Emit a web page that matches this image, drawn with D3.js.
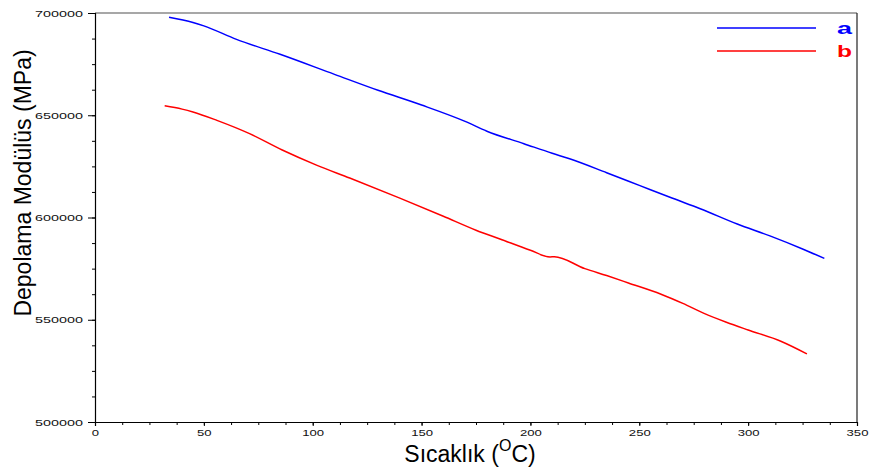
<!DOCTYPE html>
<html>
<head>
<meta charset="utf-8">
<script src="https://cdn.jsdelivr.net/npm/d3@7"></script>
<style>
  body { margin: 0; background: #fff; }
  text { font-family: "Liberation Sans", Arial, sans-serif; }
</style>
</head>
<body>
<div class="chart"></div>
<script>
// DATA ------------------------------------
const seriesNames = ['a', 'b'];
const seriesColors = ['#0000ff', '#ff0000'];

const tempA = [34, 45, 50, 65, 85, 110, 130, 150, 170, 180, 197, 210, 218, 235, 250, 265, 278, 295, 310, 325, 335];
const modA = [697900, 695400, 693700, 687100, 679800, 670000, 662200, 655000, 647000, 642200, 636100, 631400, 628700, 621900, 615700, 609500, 604300, 596800, 591000, 584600, 580000];

const tempB = [32, 40, 45, 56, 71, 86, 102, 117, 140, 160, 175, 186, 200, 209, 211, 225, 235, 245, 260, 270, 280, 290, 300, 315, 327];
const modB = [654600, 653000, 651600, 647500, 641000, 633000, 625500, 619300, 609500, 600600, 593800, 589500, 584000, 580700, 580800, 575000, 571600, 568000, 562500, 558000, 553000, 548800, 545000, 539500, 533300];

const xTicks = [0, 50, 100, 150, 200, 250, 300, 350];
const yTicks = [500000, 550000, 600000, 650000, 700000];

// CHART INIT ------------------------------
const margin = { top: 13, right: 14, bottom: 49, left: 95 },
    width = 871 - margin.left - margin.right,
    height = 471 - margin.top - margin.bottom;

const svg = d3.select('.chart')
    .append('svg')
    .attr('width', width + margin.left + margin.right)
    .attr('height', height + margin.top + margin.bottom);

const group = svg.append('g')
    .attr('transform', 'translate(' + margin.left + ',' + margin.top + ')');

const xScale = d3.scaleLinear().domain([0, 350]).range([0, width]);
const yScale = d3.scaleLinear().domain([500000, 700000]).range([height, 0]);

// frame (top / right)
group.append('line')
    .attr('x1', 0).attr('x2', width).attr('y1', 0).attr('y2', 0)
    .attr('stroke', '#8a8a8a').attr('stroke-width', 1.5);
group.append('line')
    .attr('x1', width).attr('x2', width).attr('y1', 0).attr('y2', height)
    .attr('stroke', '#222').attr('stroke-width', 1.2);

// minor ticks
const xMinor = d3.axisBottom(xScale).tickValues(d3.range(0, 351, 12.5)).tickSize(3).tickFormat('');
const yMinor = d3.axisLeft(yScale).tickValues(d3.range(500000, 700001, 12500)).tickSize(3).tickFormat('');

group.append('g').attr('class', 'minor').attr('transform', `translate(0, ${height})`).call(xMinor);
group.append('g').attr('class', 'minor').call(yMinor);

// major axes
const xAxis = d3.axisBottom(xScale).tickValues(xTicks).tickSize(4).tickPadding(3).tickFormat(d3.format('d'));
const yAxis = d3.axisLeft(yScale).tickValues(yTicks).tickSize(7).tickPadding(5).tickFormat(d3.format('d'));

const xDisplay = group.append('g')
    .attr('class', 'axis x-axis')
    .attr('transform', `translate(0, ${height})`)
    .call(xAxis);

const yDisplay = group.append('g')
    .attr('class', 'axis y-axis')
    .call(yAxis);

group.selectAll('.domain').attr('stroke', '#000').attr('stroke-width', 1.2);
group.selectAll('.minor .domain').remove();
group.selectAll('.tick line').attr('stroke', '#000');

xDisplay.selectAll('text')
    .attr('font-size', 9.5)
    .attr('fill', '#111')
    .attr('textLength', d => String(d).length * 7.3)
    .attr('lengthAdjust', 'spacingAndGlyphs');

yDisplay.selectAll('text')
    .attr('font-size', 9.5)
    .attr('fill', '#111')
    .attr('textLength', 48)
    .attr('lengthAdjust', 'spacingAndGlyphs');

// lines
const line = d3.line()
    .x(d => xScale(d[0]))
    .y(d => yScale(d[1]))
    .curve(d3.curveMonotoneX);

const series = [
    d3.zip(tempA, modA),
    d3.zip(tempB, modB)
];

group.selectAll('path.series')
    .data(series)
    .enter()
    .append('path')
    .attr('class', 'series')
    .attr('d', line)
    .attr('fill', 'none')
    .attr('stroke', (d, i) => seriesColors[i])
    .attr('stroke-width', 1.5);

// legend
const legend = svg.append('g').attr('class', 'legend');
seriesNames.forEach((name, i) => {
    const y = 28 + i * 23;
    legend.append('line')
        .attr('x1', 717).attr('x2', 816)
        .attr('y1', y).attr('y2', y)
        .attr('stroke', seriesColors[i])
        .attr('stroke-width', 1.5);
    legend.append('text')
        .attr('x', 837)
        .attr('y', y + 6)
        .attr('font-family', 'Liberation Sans, Arial, sans-serif')
        .attr('font-size', 17)
        .attr('font-weight', 'bold')
        .attr('fill', seriesColors[i])
        .attr('textLength', 15)
        .attr('lengthAdjust', 'spacingAndGlyphs')
        .text(name);
});

// axis titles
svg.append('text')
    .attr('transform', 'translate(31, 183) rotate(-90)')
    .attr('text-anchor', 'middle')
    .attr('font-size', 23)
    .attr('fill', '#000')
    .text('Depolama Modülüs (MPa)');

const xLabel = svg.append('text')
    .attr('x', 470)
    .attr('y', 462)
    .attr('text-anchor', 'middle')
    .attr('font-size', 23)
    .attr('fill', '#000');
xLabel.append('tspan').text('Sıcaklık (');
xLabel.append('tspan').attr('font-size', 16).attr('dy', -11).text('O');
xLabel.append('tspan').attr('dy', 11).text('C)');
</script>
</body>
</html>
